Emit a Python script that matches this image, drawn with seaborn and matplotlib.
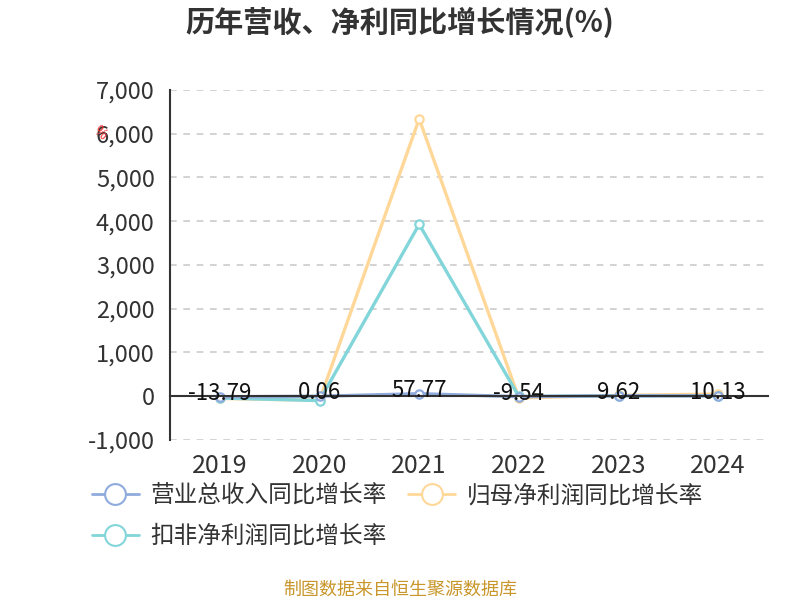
import seaborn as sns
import matplotlib.pyplot as plt
import pandas as pd

sns.set_style("white")
plt.rcParams['font.family'] = ['Noto Sans CJK SC', 'DejaVu Sans']
plt.rcParams['axes.unicode_minus'] = False

# data
years = ["2019", "2020", "2021", "2022", "2023", "2024"]
revenue_yoy = [-13.79, 0.06, 57.77, -9.54, 9.62, 10.13]
parent_profit_yoy = [-50, -95, 6340, -40, 20, 50]
deducted_profit_yoy = [-40, -100, 3930, -5, 10, 10]

series_names = ["营业总收入同比增长率", "归母净利润同比增长率", "扣非净利润同比增长率"]
colors = ["#8FAADC", "#FFD899", "#82D5D9"]
y_ticks = [-1000, 0, 1000, 2000, 3000, 4000, 5000, 6000, 7000]

df = pd.DataFrame({
    "year": years * 3,
    "value": revenue_yoy + parent_profit_yoy + deducted_profit_yoy,
    "series": [n for n in series_names for _ in years],
})

fig = plt.figure(figsize=(8, 6), dpi=100)
ax = fig.add_axes([0.2125, 0.2667, 0.7475, 0.5833])

# draw the revenue line last so it sits on top near zero
for name, c in zip([series_names[1], series_names[2], series_names[0]],
                   [colors[1], colors[2], colors[0]]):
    sns.lineplot(data=df[df["series"] == name], x="year", y="value", ax=ax,
                 color=c, linewidth=2.4, marker="o", markersize=6,
                 markerfacecolor="white", markeredgecolor=c, markeredgewidth=1.6,
                 sort=False, legend=False)

ax.set_xlim(-0.5, len(years) - 0.5)
ax.set_ylim(-1000, 7000)
ax.set_yticks(y_ticks)
ax.set_yticklabels([f"{v:,}" for v in y_ticks])
ax.set_xlabel("")
ax.set_ylabel("")

for v in y_ticks:
    if v != 0:
        ax.axhline(v, color="#CCCCCC", linestyle=(0, (4, 4)), linewidth=1.2, zorder=0)

for s in ["top", "right"]:
    ax.spines[s].set_visible(False)
ax.spines["left"].set_color("#333333")
ax.spines["left"].set_linewidth(1.5)
ax.spines["bottom"].set_position(("data", 0))
ax.spines["bottom"].set_color("#333333")
ax.spines["bottom"].set_linewidth(1.5)

ax.tick_params(axis="y", direction="out", length=7, width=1.5, color="#333333",
               labelsize=17, labelcolor="#333333", pad=4)
ax.set_xticks(range(len(years)))
ax.set_xticklabels(years)
ax.set_xticks([i - 0.5 for i in range(len(years) + 1)], minor=True)
ax.tick_params(axis="x", which="major", length=0, labelsize=18,
               labelcolor="#333333", pad=41)
ax.tick_params(axis="x", which="minor", direction="out", length=7, width=1.5,
               color="#333333")

for i, v in enumerate(revenue_yoy):
    ax.annotate(f"{v:g}" if v != 0.06 else "0.06", (i, v), xytext=(0, 2.5),
                textcoords="offset points", ha="center", va="center",
                fontsize=16, color="#111111", zorder=5)

# legend (row-wise order: blue, orange / teal)
handles = [plt.Line2D([0], [0], color=c, linewidth=2, marker="o", markersize=15,
                      markerfacecolor="white", markeredgecolor=c, markeredgewidth=1.5)
           for c in colors]
order = [0, 2, 1]
fig.legend([handles[i] for i in order], [series_names[i] for i in order],
           loc="upper left", bbox_to_anchor=(0.088, 0.228),
           ncol=2, frameon=False, fontsize=17, handlelength=2.0,
           columnspacing=0.9, handletextpad=0.5, labelspacing=0.75,
           labelcolor="#333333")

fig.text(0.5, 0.962, "历年营收、净利同比增长情况(%)", ha="center", va="center",
         fontsize=21, fontweight="bold", color="#333333")
fig.text(0.5, 0.018, "制图数据来自恒生聚源数据库", ha="center", va="center",
         fontsize=13, color="#C8962A")
fig.text(0.125, 0.778, "%", ha="center", va="center", fontsize=10,
         color="#FF3333", rotation=-40)

fig.savefig("out.png", dpi=100)
plt.close()
